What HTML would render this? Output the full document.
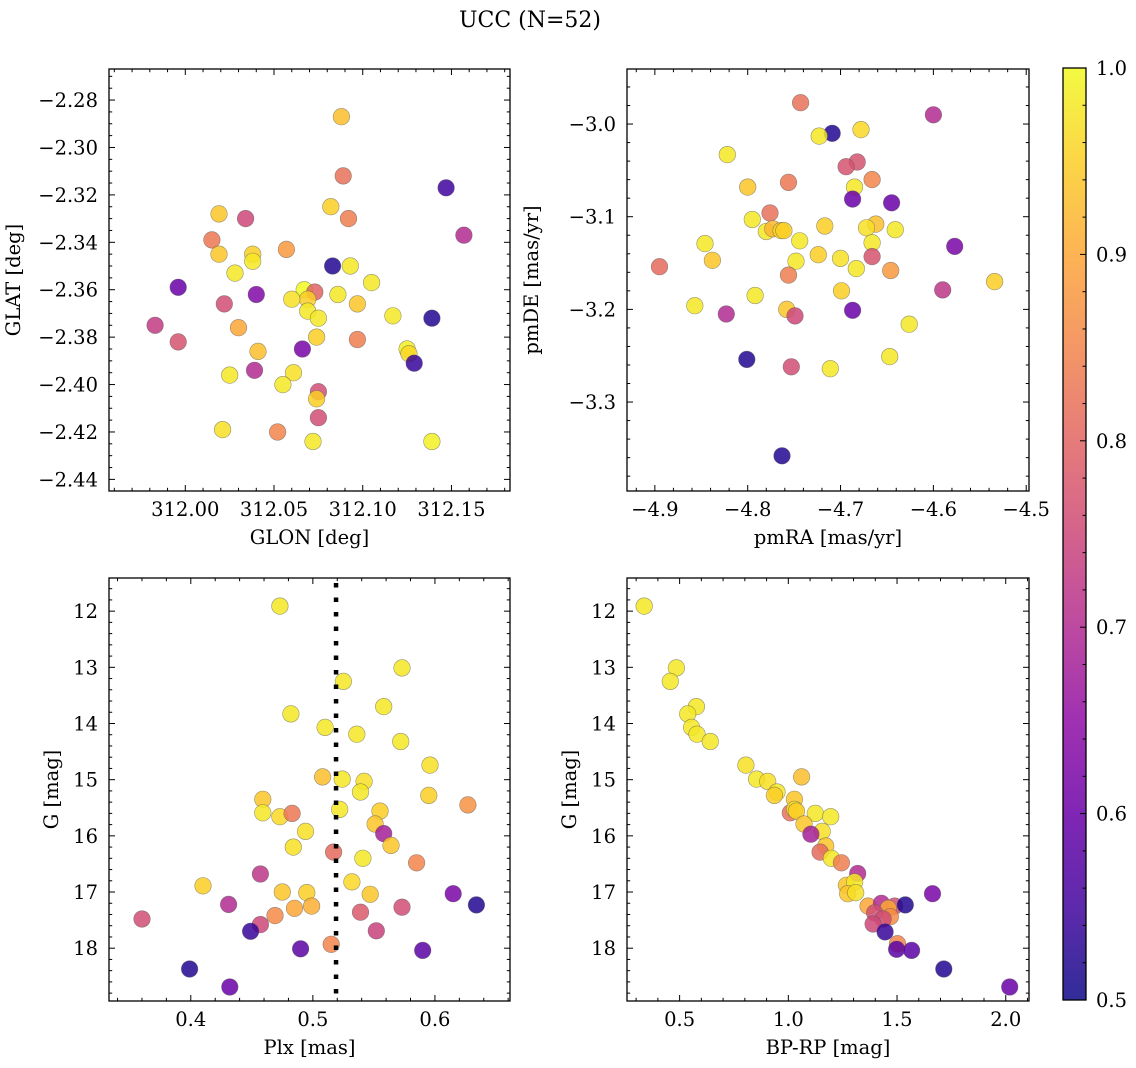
<!DOCTYPE html>
<html><head><meta charset="utf-8">
<style>
html,body{margin:0;padding:0;background:#fff;}
svg{display:block;font-family:"DejaVu Serif","Liberation Serif",serif;}
</style></head>
<body>
<svg id="fig" width="1136" height="1068" viewBox="0 0 1136 1068" xmlns="http://www.w3.org/2000/svg">
<defs>
<linearGradient id="plasma" x1="0" y1="1" x2="0" y2="0">
<stop offset="0" stop-color="#0d0887"/><stop offset="0.1" stop-color="#41049d"/><stop offset="0.2" stop-color="#6a00a8"/><stop offset="0.3" stop-color="#8f0da4"/><stop offset="0.4" stop-color="#b12a90"/><stop offset="0.5" stop-color="#cc4778"/><stop offset="0.6" stop-color="#e16462"/><stop offset="0.7" stop-color="#f2844b"/><stop offset="0.8" stop-color="#fca636"/><stop offset="0.9" stop-color="#fcce25"/><stop offset="1" stop-color="#f0f921"/>
</linearGradient>
</defs>
<text x="530" y="27" font-size="22" text-anchor="middle">UCC (N=52)</text>
</svg>
<script>
// ---- data: top-left (GLON/GLAT) ----
const glon = [312.088,312.089,312.147,312.082,312.092,312.157,312.019,312.034,312.015,312.019,312.038,312.038,312.057,312.083,312.093,312.105,312.028,311.996,312.040,312.067,312.073,312.069,312.060,312.086,312.097,312.069,312.075,312.022,311.983,311.996,312.030,312.117,312.139,312.074,312.097,312.041,312.066,312.125,312.126,312.129,312.025,312.039,312.061,312.055,312.075,312.074,312.075,312.021,312.052,312.072,312.139];
const glat = [-2.287,-2.312,-2.317,-2.325,-2.330,-2.337,-2.328,-2.330,-2.339,-2.345,-2.345,-2.348,-2.343,-2.350,-2.350,-2.357,-2.353,-2.359,-2.362,-2.360,-2.361,-2.364,-2.364,-2.362,-2.366,-2.369,-2.372,-2.366,-2.375,-2.382,-2.376,-2.371,-2.372,-2.380,-2.381,-2.386,-2.385,-2.385,-2.387,-2.391,-2.396,-2.394,-2.395,-2.400,-2.403,-2.406,-2.414,-2.419,-2.420,-2.424,-2.424];
const probTL = [0.93,0.82,0.55,0.95,0.84,0.70,0.94,0.75,0.83,0.94,0.95,0.98,0.88,0.52,0.98,0.98,0.98,0.60,0.63,1.0,0.80,0.95,0.97,0.98,0.94,0.98,0.98,0.76,0.73,0.77,0.90,0.98,0.52,0.95,0.84,0.93,0.62,0.99,0.96,0.54,0.98,0.70,0.97,0.98,0.76,0.95,0.76,0.97,0.85,0.98,0.99];
// ---- data: top-right (pmRA/pmDE) ----
const pmra = [-4.743,-4.600,-4.709,-4.723,-4.678,-4.822,-4.682,-4.694,-4.666,-4.756,-4.800,-4.685,-4.687,-4.645,-4.776,-4.795,-4.717,-4.662,-4.672,-4.641,-4.780,-4.773,-4.764,-4.761,-4.744,-4.666,-4.846,-4.577,-4.724,-4.666,-4.838,-4.700,-4.748,-4.683,-4.895,-4.646,-4.756,-4.534,-4.590,-4.699,-4.792,-4.857,-4.758,-4.687,-4.823,-4.749,-4.626,-4.647,-4.801,-4.753,-4.711,-4.763];
const pmde = [-2.977,-2.990,-3.010,-3.013,-3.006,-3.033,-3.041,-3.046,-3.060,-3.063,-3.068,-3.068,-3.081,-3.085,-3.096,-3.103,-3.110,-3.108,-3.112,-3.114,-3.116,-3.113,-3.115,-3.115,-3.126,-3.128,-3.129,-3.132,-3.141,-3.143,-3.147,-3.145,-3.148,-3.156,-3.154,-3.158,-3.163,-3.170,-3.179,-3.180,-3.185,-3.196,-3.200,-3.201,-3.205,-3.207,-3.216,-3.251,-3.254,-3.262,-3.264,-3.358];
const probTR = [0.82,0.70,0.52,0.98,0.96,0.98,0.77,0.77,0.85,0.83,0.94,0.98,0.60,0.60,0.82,0.98,0.95,0.93,0.97,0.98,0.98,0.92,0.96,0.95,0.98,0.98,0.98,0.62,0.95,0.77,0.94,0.97,0.98,0.98,0.81,0.88,0.84,0.95,0.72,0.95,0.98,0.98,0.94,0.60,0.70,0.75,0.98,0.98,0.52,0.76,0.98,0.52];
// ---- data: bottom-left (Plx/G) ----
const plx = [0.473,0.573,0.525,0.558,0.482,0.510,0.536,0.572,0.596,0.508,0.524,0.542,0.539,0.595,0.459,0.627,0.522,0.555,0.459,0.473,0.483,0.551,0.494,0.558,0.564,0.484,0.517,0.541,0.585,0.457,0.410,0.532,0.475,0.495,0.547,0.615,0.431,0.485,0.499,0.573,0.634,0.360,0.469,0.539,0.457,0.449,0.552,0.515,0.490,0.590,0.399,0.432];
const gmagL = [11.91,13.01,13.25,13.70,13.83,14.07,14.19,14.32,14.74,14.95,14.99,15.03,15.22,15.28,15.35,15.45,15.53,15.56,15.59,15.66,15.60,15.79,15.92,15.96,16.17,16.20,16.29,16.40,16.48,16.68,16.89,16.82,17.00,17.01,17.04,17.03,17.22,17.29,17.25,17.27,17.23,17.48,17.42,17.36,17.58,17.70,17.69,17.93,18.01,18.04,18.37,18.69];
const probBL = [0.98,0.98,0.98,0.98,0.98,0.98,0.98,0.98,0.97,0.93,0.98,0.97,0.98,0.95,0.94,0.87,0.98,0.95,0.98,0.96,0.83,0.94,0.97,0.68,0.94,0.97,0.81,0.98,0.85,0.72,0.95,0.96,0.94,0.95,0.94,0.62,0.70,0.90,0.91,0.76,0.52,0.76,0.86,0.78,0.75,0.54,0.74,0.85,0.58,0.58,0.52,0.60];
const plxLine = 0.519;
// ---- data: bottom-right (BP-RP/G) ----
const bprp = [0.337,0.485,0.457,0.577,0.537,0.555,0.580,0.641,0.805,1.061,0.854,0.905,0.948,0.936,1.028,1.009,1.029,1.037,1.124,1.195,1.072,1.156,1.104,1.172,1.146,1.198,1.244,1.319,1.267,1.305,1.273,1.310,1.663,1.367,1.428,1.489,1.460,1.538,1.397,1.469,1.436,1.390,1.445,1.502,1.498,1.567,1.715,2.018];
const gmagR = [11.91,13.01,13.25,13.70,13.83,14.07,14.19,14.32,14.74,14.95,14.99,15.03,15.22,15.28,15.35,15.59,15.53,15.56,15.60,15.66,15.79,15.92,15.97,16.18,16.29,16.40,16.48,16.67,16.88,16.82,17.03,17.01,17.03,17.25,17.20,17.25,17.29,17.23,17.37,17.44,17.48,17.57,17.71,17.92,18.02,18.04,18.37,18.69];
const probBR = [0.98,0.98,0.98,0.98,0.98,0.98,0.98,0.98,0.97,0.93,0.98,0.97,0.98,0.95,0.94,0.82,0.98,0.95,0.98,0.98,0.94,0.97,0.68,0.94,0.81,0.98,0.84,0.70,0.94,0.98,0.94,0.97,0.62,0.90,0.70,0.76,0.90,0.52,0.76,0.86,0.76,0.75,0.54,0.85,0.58,0.58,0.52,0.60];
// ---- tick labels ----
const ticksTLx = [312.00,312.05,312.10,312.15];
const ticksTLy = [-2.28,-2.30,-2.32,-2.34,-2.36,-2.38,-2.40,-2.42,-2.44];
const ticksTRx = [-4.9,-4.8,-4.7,-4.6,-4.5];
const ticksTRy = [-3.0,-3.1,-3.2,-3.3];
const ticksBLx = [0.4,0.5,0.6];
const ticksGy = [12,13,14,15,16,17,18];
const ticksBRx = [0.5,1.0,1.5,2.0];
const ticksCbar = [0.5,0.6,0.7,0.8,0.9,1.0];

const NS = "http://www.w3.org/2000/svg";
const svg = document.getElementById('fig');
const FS = 19.5;
function mk(tag, attrs, parent){const e=document.createElementNS(NS,tag);for(const k in attrs)e.setAttribute(k,attrs[k]);(parent||svg).appendChild(e);return e;}
const stops=[[13,8,135],[65,4,157],[106,0,168],[143,13,164],[177,42,144],[204,71,120],[225,100,98],[242,132,75],[252,166,54],[252,206,37],[240,249,33]];
function plasma(p){let t=(p-0.5)/0.5;t=Math.max(0,Math.min(1,t));const f=t*10;const i=Math.min(9,Math.floor(f));const r=f-i;const a=stops[i],b=stops[i+1];return 'rgb('+[0,1,2].map(k=>Math.round(a[k]+(b[k]-a[k])*r)).join(',')+')';}
function fmt(v,d){const s=Math.abs(v).toFixed(d);return (v<0?'\u2212':'')+s;}

function panel(name, box, xd, yd, xt, xminor, yt, yminor, xdec, ydec, xlabel, ylabel, xs, ys, ps, invY){
  const g=mk('g',{});
  
  
  const X=v=>box.x0+(v-xd[0])/(xd[1]-xd[0])*(box.x1-box.x0);
  const Y=v=>invY? box.y0+(v-yd[0])/(yd[1]-yd[0])*(box.y1-box.y0) : box.y1-(v-yd[0])/(yd[1]-yd[0])*(box.y1-box.y0);
  const pg=mk('g',{},g);
  
  
  for(let i=0;i<xs.length;i++){
    const c=mk('circle',{cx:X(xs[i]).toFixed(1),cy:Y(ys[i]).toFixed(1),r:8.3,fill:plasma(ps[i]),'fill-opacity':0.85,stroke:'#555','stroke-opacity':0.6,'stroke-width':0.6},pg);
    
    
  }
  const xlo=Math.min(xd[0],xd[1]), xhi=Math.max(xd[0],xd[1]);
  for(let k=Math.ceil(xlo/xminor-1e-6);k*xminor<=xhi+1e-9;k++){
    const v=k*xminor, px=X(v);
    const isMaj=xt.some(t=>Math.abs(t-v)<xminor/10);
    const L=isMaj?6:3.2;
    mk('line',{x1:px,y1:box.y1,x2:px,y2:box.y1-L,stroke:'#000','stroke-width':1},g);
    mk('line',{x1:px,y1:box.y0,x2:px,y2:box.y0+L,stroke:'#000','stroke-width':1},g);
  }
  const ylo=Math.min(yd[0],yd[1]), yhi=Math.max(yd[0],yd[1]);
  for(let k=Math.ceil(ylo/yminor-1e-6);k*yminor<=yhi+1e-9;k++){
    const v=k*yminor, py=Y(v);
    const isMaj=yt.some(t=>Math.abs(t-v)<yminor/10);
    const L=isMaj?6:3.2;
    mk('line',{x1:box.x0,y1:py,x2:box.x0+L,y2:py,stroke:'#000','stroke-width':1},g);
    mk('line',{x1:box.x1,y1:py,x2:box.x1-L,y2:py,stroke:'#000','stroke-width':1},g);
  }
  xt.forEach(v=>{const t=mk('text',{x:X(v),y:box.y1+25,'font-size':FS,'text-anchor':'middle'},g);t.textContent=fmt(v,xdec);
    
    });
  yt.forEach(v=>{const t=mk('text',{x:box.x0-11,y:Y(v)+7,'font-size':FS,'text-anchor':'end'},g);t.textContent=fmt(v,ydec);
    
    });
  const fr=mk('rect',{x:box.x0,y:box.y0,width:box.x1-box.x0,height:box.y1-box.y0,fill:'none',stroke:'#000','stroke-width':1.3},g);
  
  
  const xl=mk('text',{x:(box.x0+box.x1)/2,y:box.y1+53,'font-size':FS,'text-anchor':'middle'},g);xl.textContent=xlabel;
  
  
  const yc=(box.y0+box.y1)/2, yx=box.x0-(ydec>0?89:51);
  const yl=mk('text',{x:yx,y:yc,'font-size':FS,'text-anchor':'middle',transform:'rotate(-90 '+yx+' '+yc+')'},g);yl.textContent=ylabel;
  
  
  return {X,Y,g};
}

const TL={x0:109,x1:510,y0:69,y1:491}, TR={x0:627,x1:1029,y0:69,y1:491};
const BL={x0:109,x1:510,y0:578,y1:1001}, BR={x0:627,x1:1029,y0:578,y1:1001};

panel('glon-glat-panel',TL,[311.957,312.183],[-2.4449,-2.2669],ticksTLx,0.01,ticksTLy,0.005,2,2,'GLON [deg]','GLAT [deg]',glon,glat,probTL,false);
panel('pm-panel',TR,[-4.930,-4.497],[-3.396,-2.9406],ticksTRx,0.02,ticksTRy,0.02,1,1,'pmRA [mas/yr]','pmDE [mas/yr]',pmra,pmde,probTR,false);
const bl=panel('plx-g-panel',BL,[0.333,0.6615],[11.41,18.94],ticksBLx,0.02,ticksGy,0.2,1,0,'Plx [mas]','G [mag]',plx,gmagL,probBL,true);
panel('cmd-panel',BR,[0.258,2.107],[11.41,18.94],ticksBRx,0.1,ticksGy,0.2,1,0,'BP-RP [mag]','G [mag]',bprp,gmagR,probBR,true);

const lx=bl.X(plxLine);
const dl=mk('line',{x1:lx,y1:BL.y0+5,x2:lx,y2:BL.y1,stroke:'#000','stroke-width':4.5,'stroke-dasharray':'4.5,10'});



const CB={x0:1063,x1:1086,y0:68,y1:1000};
const cbg=mk('g',{});


mk('rect',{x:CB.x0,y:CB.y0,width:CB.x1-CB.x0,height:CB.y1-CB.y0,fill:'url(#plasma)','fill-opacity':0.85},cbg);
const CY=v=>CB.y1-(v-0.5)/0.5*(CB.y1-CB.y0);
for(let k=25;k<=50;k++){const v=k/50, py=CY(v);const maj=(k%5===0);
  mk('line',{x1:CB.x1,y1:py,x2:CB.x1-(maj?6:3.5),y2:py,stroke:'#000','stroke-width':1},cbg);}
ticksCbar.forEach(v=>{const t=mk('text',{x:CB.x1+10,y:CY(v)+7,'font-size':FS},cbg);t.textContent=v.toFixed(1);
  
  });
mk('rect',{x:CB.x0,y:CB.y0,width:CB.x1-CB.x0,height:CB.y1-CB.y0,fill:'none',stroke:'#000','stroke-width':1.3},cbg);
</script>
</body></html>
